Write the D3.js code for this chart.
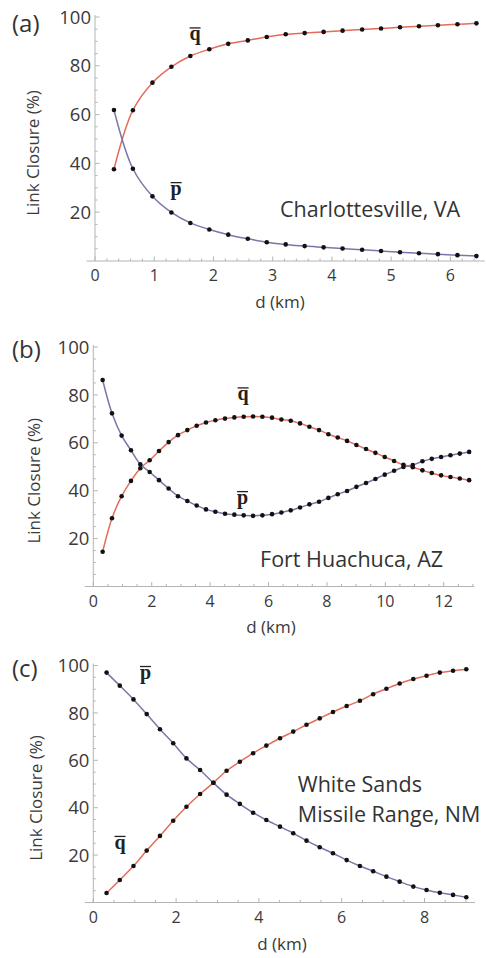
<!DOCTYPE html>
<html><head><meta charset="utf-8">
<script src="https://cdn.jsdelivr.net/npm/d3@7"></script>
<style>html,body{margin:0;padding:0;background:#fff;overflow:hidden}</style>
</head><body>
<script>
// ---------- data ----------
const panelLetters = ["(a)", "(b)", "(c)"];
const locationLines = [["Charlottesville, VA"], ["Fort Huachuca, AZ"], ["White Sands", "Missile Range, NM"]];
const yTickValues = [20, 40, 60, 80, 100];
const xTicksA = [0, 1, 2, 3, 4, 5, 6];
const xTicksB = [0, 2, 4, 6, 8, 10, 12];
const xTicksC = [0, 2, 4, 6, 8];
const xAxisTitle = "d (km)";
const yAxisTitle = "Link Closure (%)";

const dA = [0.32, 0.64, 0.97, 1.29, 1.61, 1.93, 2.25, 2.58, 2.90, 3.22, 3.54, 3.86, 4.18, 4.51, 4.83, 5.15, 5.47, 5.79, 6.12, 6.44];
const qA = [37.6, 61.8, 73.1, 79.6, 84.0, 86.8, 89.0, 90.4, 91.8, 92.9, 93.4, 93.9, 94.4, 94.9, 95.3, 95.8, 96.2, 96.6, 97.0, 97.4];
const pA = [61.9, 37.8, 26.5, 19.9, 15.6, 12.9, 10.8, 9.1, 7.7, 6.8, 6.1, 5.6, 5.1, 4.6, 4.1, 3.6, 3.2, 2.8, 2.4, 2.0];

const dB = [0.32, 0.64, 0.97, 1.29, 1.61, 1.93, 2.25, 2.58, 2.90, 3.22, 3.54, 3.86, 4.18, 4.51, 4.83, 5.15, 5.47, 5.79, 6.12, 6.44,
            6.76, 7.08, 7.40, 7.73, 8.05, 8.37, 8.69, 9.01, 9.34, 9.66, 9.98, 10.30, 10.62, 10.94, 11.27, 11.59, 11.91, 12.23, 12.55, 12.87];
const qB = [14.5, 28.5, 37.7, 44.1, 49.4, 52.7, 56.6, 60.3, 63.2, 65.3, 67.1, 68.5, 69.4, 70.1, 70.6, 70.9, 71.0, 70.9, 70.5, 69.7,
            69.2, 68.1, 66.7, 65.3, 63.6, 62.2, 60.8, 59.1, 57.4, 55.8, 54.1, 52.4, 50.8, 49.8, 48.5, 47.4, 46.4, 45.7, 45.1, 44.4];
const pB = [86.2, 72.3, 63.0, 56.9, 51.0, 47.8, 44.4, 40.9, 37.7, 35.7, 33.8, 32.2, 31.2, 30.4, 30.0, 29.7, 29.5, 29.7, 30.2, 30.9,
            31.8, 33.0, 34.3, 35.4, 37.0, 38.5, 39.9, 41.6, 43.2, 44.9, 46.7, 48.3, 49.9, 50.7, 52.3, 53.3, 54.1, 54.8, 55.5, 56.2];

const dC = [0.32, 0.64, 0.97, 1.29, 1.61, 1.93, 2.25, 2.58, 2.90, 3.22, 3.54, 3.86, 4.18, 4.51, 4.83, 5.15, 5.47, 5.79, 6.12, 6.44,
            6.76, 7.08, 7.40, 7.73, 8.05, 8.37, 8.69, 9.01];
const qC = [4.0, 9.5, 15.4, 21.9, 28.1, 34.5, 40.4, 45.8, 50.5, 55.6, 59.4, 63.0, 66.2, 69.3, 72.1, 75.0, 77.7, 80.4, 82.9, 85.1,
            87.9, 90.2, 92.4, 94.3, 95.7, 97.0, 97.8, 98.4];
const pC = [97.0, 91.5, 85.7, 79.5, 73.1, 67.2, 60.8, 55.9, 50.5, 45.5, 41.6, 37.9, 34.8, 32.0, 29.2, 26.1, 23.3, 20.8, 17.9, 15.4,
            13.2, 10.9, 8.8, 6.7, 5.3, 4.1, 3.2, 2.2];

// annotation anchors, in data units [d, value]
const qLabelPos = [[1.69, 90.4], [5.13, 77.7], [0.645, 22.6]];
const pLabelPos = [[1.37, 27.0], [5.11, 34.4], [1.26, 94.3]];
const locationPos = [[3.125, 18.2], [5.71, 8.0], [4.94, 46.8]];

// ---------- layout ----------
const W = 486, H = 958;
const sans = "'Open Sans', sans-serif";
const serif = "'Liberation Serif', 'Times New Roman', serif";
const colQ = "#e46c5a", colP = "#7878aa", axisCol = "#b4b4b4", textCol = "#3a3a3a";

const panels = [
  {letter: panelLetters[0], d: dA, q: qA, p: pA, xTicks: xTicksA, minorStep: 0.2, xDom: [0, 6.58], xRange: [95, 484.7], yRange: [261, 17],
   letterBase: 32, xTitle: [280, 308], yTitleX: 32.5, loc: locationLines[0]},
  {letter: panelLetters[1], d: dB, q: qB, p: pB, xTicks: xTicksB, minorStep: 0.5, xDom: [0, 13.05], xRange: [93.3, 474.4], yRange: [586.5, 347],
   letterBase: 358, xTitle: [271, 633], yTitleX: 34, loc: locationLines[1]},
  {letter: panelLetters[2], d: dC, q: qC, p: pC, xTicks: xTicksC, minorStep: 0.5, xDom: [0, 9.22], xRange: [93.3, 475], yRange: [902.5, 665.5],
   letterBase: 677, xTitle: [282, 950], yTitleX: 35.5, loc: locationLines[2]}
];

const svg = d3.select("body").append("svg").attr("width", W).attr("height", H)
  .style("font-family", sans);

panels.forEach((P, i) => {
  const x = d3.scaleLinear().domain(P.xDom).range(P.xRange);
  const y = d3.scaleLinear().domain([0, 100]).range(P.yRange);
  const g = svg.append("g");

  // axes lines
  g.append("line").attr("x1", x(0) - 8.5).attr("x2", x(P.xDom[1])).attr("y1", y(0)).attr("y2", y(0))
    .attr("stroke", axisCol).attr("stroke-width", 1);
  g.append("line").attr("x1", x(0)).attr("x2", x(0)).attr("y1", y(0)).attr("y2", y(100) - 2)
    .attr("stroke", axisCol).attr("stroke-width", 1);

  // y ticks (major + minor, pointing right)
  const yMinor = d3.range(5, 100, 5).filter(v => v % 20 !== 0);
  g.selectAll(".ym").data(yMinor).join("line")
    .attr("x1", x(0)).attr("x2", x(0) + 2.5).attr("y1", d => y(d)).attr("y2", d => y(d))
    .attr("stroke", axisCol);
  g.selectAll(".yM").data(yTickValues).join("line")
    .attr("x1", x(0)).attr("x2", x(0) + 4.5).attr("y1", d => y(d)).attr("y2", d => y(d))
    .attr("stroke", axisCol);
  g.selectAll(".yl").data(yTickValues).join("text")
    .attr("x", x(0) - 4).attr("y", d => y(d)).attr("dy", "0.36em")
    .attr("text-anchor", "end").attr("font-size", 18.5).attr("fill", textCol)
    .text(d => d);

  // x ticks (pointing up)
  const xMinor = d3.range(P.minorStep, P.xDom[1], P.minorStep)
    .filter(v => P.xTicks.every(t => Math.abs(t - v) > 1e-6));
  g.selectAll(".xm").data(xMinor).join("line")
    .attr("x1", d => x(d)).attr("x2", d => x(d)).attr("y1", y(0)).attr("y2", y(0) - 2.5)
    .attr("stroke", axisCol);
  g.selectAll(".xM").data(P.xTicks).join("line")
    .attr("x1", d => x(d)).attr("x2", d => x(d)).attr("y1", y(0)).attr("y2", y(0) - 4.5)
    .attr("stroke", axisCol);
  g.selectAll(".xl").data(P.xTicks).join("text")
    .attr("x", d => x(d)).attr("y", y(0) + 14.5).attr("dy", "0.36em")
    .attr("text-anchor", "middle").attr("font-size", 16).attr("fill", textCol)
    .text(d => d);

  // axis titles
  g.append("text").attr("x", P.xTitle[0]).attr("y", P.xTitle[1])
    .attr("text-anchor", "middle").attr("font-size", 17).attr("fill", textCol).text(xAxisTitle);
  const yMid = (y(0) + y(100)) / 2 + 14;
  g.append("text").attr("transform", `translate(${P.yTitleX},${yMid}) rotate(-90)`)
    .attr("dy", "0.36em").attr("text-anchor", "middle").attr("font-size", 17).attr("fill", textCol).text(yAxisTitle);

  // panel letter
  g.append("text").attr("x", 12).attr("y", P.letterBase).attr("font-size", 24).attr("fill", "#333").text(P.letter);

  // curves
  const line = d3.line().x(d => x(d[0])).y(d => y(d[1])).curve(d3.curveCatmullRom.alpha(0.5));
  const qPts = P.d.map((d, k) => [d, P.q[k]]);
  const pPts = P.d.map((d, k) => [d, P.p[k]]);
  g.append("path").attr("d", line(qPts)).attr("fill", "none").attr("stroke", colQ).attr("stroke-width", 1.5);
  g.append("path").attr("d", line(pPts)).attr("fill", "none").attr("stroke", colP).attr("stroke-width", 1.5);
  g.selectAll(".dq").data(qPts).join("circle").attr("cx", d => x(d[0])).attr("cy", d => y(d[1])).attr("r", 2.3).attr("fill", "#111");
  g.selectAll(".dp").data(pPts).join("circle").attr("cx", d => x(d[0])).attr("cy", d => y(d[1])).attr("r", 2.3).attr("fill", "#111");

  // q̄ / p̄ labels
  [["q", qLabelPos[i]], ["p", pLabelPos[i]]].forEach(([ch, pos]) => {
    const cx = x(pos[0]), by = y(pos[1]);
    g.append("text").attr("x", cx).attr("y", by).attr("text-anchor", "middle")
      .attr("font-family", serif).attr("font-weight", "bold").attr("font-size", 20).attr("fill", "#222").text(ch);
    g.append("line").attr("x1", cx - 5.5).attr("x2", cx + 5.5).attr("y1", by - 12.5).attr("y2", by - 12.5)
      .attr("stroke", "#222").attr("stroke-width", 1.3);
  });

  // location text
  const lx = x(locationPos[i][0]), ly = y(locationPos[i][1]);
  P.loc.forEach((t, j) => {
    g.append("text").attr("x", lx).attr("y", ly + j * 30).attr("font-size", 21.5).attr("fill", "#333").text(t);
  });
});
</script>
</body></html>
